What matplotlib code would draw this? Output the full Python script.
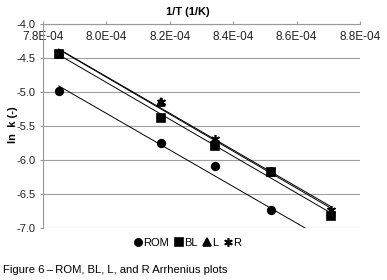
import numpy as np
import matplotlib
matplotlib.use("Agg")
import matplotlib.pyplot as plt

plt.rcParams['font.family'] = ['Liberation Sans', 'DejaVu Sans']

# inverse temperature (1/K) and ln k for each sample
inv_T = [7.85e-4, 8.173e-4, 8.343e-4, 8.52e-4, 8.71e-4]
ln_k_ROM = [-4.99, -5.75, -6.09, -6.74, -7.30]
ln_k_BL = [-4.44, -5.38, -5.80, -6.18, -6.83]
ln_k_L = [-4.44, -5.15, -5.73, -6.18, -6.76]
ln_k_R = [-4.43, -5.15, -5.70, -6.17, -6.73]

x_ticks = ["7.8E-04", "8.0E-04", "8.2E-04", "8.4E-04", "8.6E-04", "8.8E-04"]

series = [
    ("ROM", ln_k_ROM, 'o', 5.5),
    ("BL", ln_k_BL, 's', 5.5),
    ("L", ln_k_L, '^', 5.5),
    ("R", ln_k_R, (6, 2, 0), 6.5),
]

fig = plt.figure(figsize=(3.87, 2.80), dpi=100)
ax = fig.add_axes([0.111, 0.186, 0.819, 0.729])

x = np.array(inv_T)
for name, y, mk, ms in series:
    # linear trendline like excel
    m, b = np.polyfit(x, y, 1)
    ax.plot(x, m * x + b, color='black', lw=0.7, zorder=2)
    ax.plot(x, y, linestyle='none', marker=mk, markersize=ms, color='black',
            markeredgewidth=1.2, label=name, zorder=3)

ax.set_xlim(7.8e-4, 8.8e-4)
ax.set_ylim(-7.0, -4.0)
ax.set_xticks(np.linspace(7.8e-4, 8.8e-4, 6))
ax.set_xticklabels(x_ticks)
yt = np.arange(-7.0, -3.99, 0.5)
ax.set_yticks(yt)
ax.set_yticklabels(["%.1f" % v for v in yt])

# excel style: category axis crosses at the top, labels sit just under it
ax.xaxis.tick_top()
ax.tick_params(axis='both', color='#999999', labelcolor='#222222',
               length=2.5, width=0.8)
ax.tick_params(axis='x', pad=-16.5, labelsize=8.5)
ax.tick_params(axis='y', pad=3, labelsize=8)

ax.grid(axis='y', color='#a0a0a0', lw=0.8)
ax.set_axisbelow(True)
for s in ['right', 'bottom']:
    ax.spines[s].set_visible(False)
ax.spines['left'].set_color('#999999')
ax.spines['top'].set_color('#999999')

fig.text(0.486, 0.957, "1/T (1/K)", fontsize=8, fontweight='bold',
         ha='center', va='center')
fig.text(0.033, 0.555, "ln  k (-)", fontsize=8, fontweight='bold',
         ha='center', va='center', rotation=90)

fig.legend(loc='center', bbox_to_anchor=(0.486, 0.132), ncol=4, frameon=False,
           fontsize=8, handlelength=0.6, handletextpad=0.15, columnspacing=0.6,
           markerscale=0.95)

fig.text(0.008, 0.036, "Figure 6\u2009\u2013\u2009ROM, BL, L, and R Arrhenius plots",
         fontsize=8.1, color='black', va='center')

fig.savefig("out.png", dpi=100)
